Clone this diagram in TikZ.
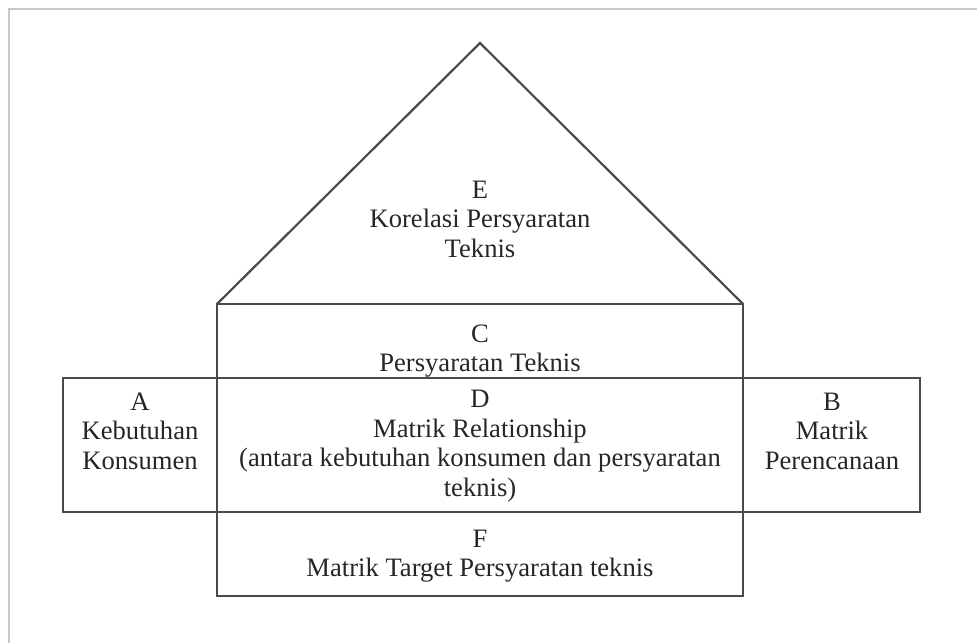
\documentclass[tikz,border=0pt]{standalone}
\usepackage{fontspec}
\setmainfont{Liberation Serif}
\definecolor{edge}{HTML}{4A4A4A}
\definecolor{ink}{HTML}{262626}
\definecolor{frame}{HTML}{C8C8C8}
\begin{document}
\begin{tikzpicture}[x=1pt,y=-1pt,
  part/.style={draw=edge,line width=2.2pt,line join=miter},
  lbl/.style={text=ink,align=center,inner sep=0pt,
    font=\fontsize{26.6}{29.5}\selectfont}]
\useasboundingbox (0,0) rectangle (977,643);
% outer frame (top and left edges only)
\draw[frame,line width=2pt] (977,9) -- (9,9) -- (9,643);

% corner points of the house
\coordinate (apex) at (480,43);
\coordinate (rl) at (217,304);
\coordinate (rr) at (743,304);
\coordinate (bl) at (217,596);
\coordinate (br) at (743,596);
\coordinate (al) at (63,378);
\coordinate (bb) at (920,512);

% roof, body and wings
\draw[part] (rl) -- (apex) -- (rr);
\draw[part] (rl) rectangle (br);
\draw[part] (al) rectangle (bb);

% labels
\node[lbl] (E) at (480,219) {E\\Korelasi Persyaratan\\Teknis};
\node[lbl] (C) at (480,351) {C\\Persyaratan Teknis};
\node[lbl] (A) at (140,431) {A\\Kebutuhan\\Konsumen};
\node[lbl] (D) at (480,446) {D\\Matrik Relationship\\(antara kebutuhan konsumen dan persyaratan\\teknis)};
\node[lbl] (B) at (832,431) {B\\Matrik\\Perencanaan};
\node[lbl] (F) at (480,556) {F\\Matrik Target Persyaratan teknis};
\end{tikzpicture}
\end{document}
